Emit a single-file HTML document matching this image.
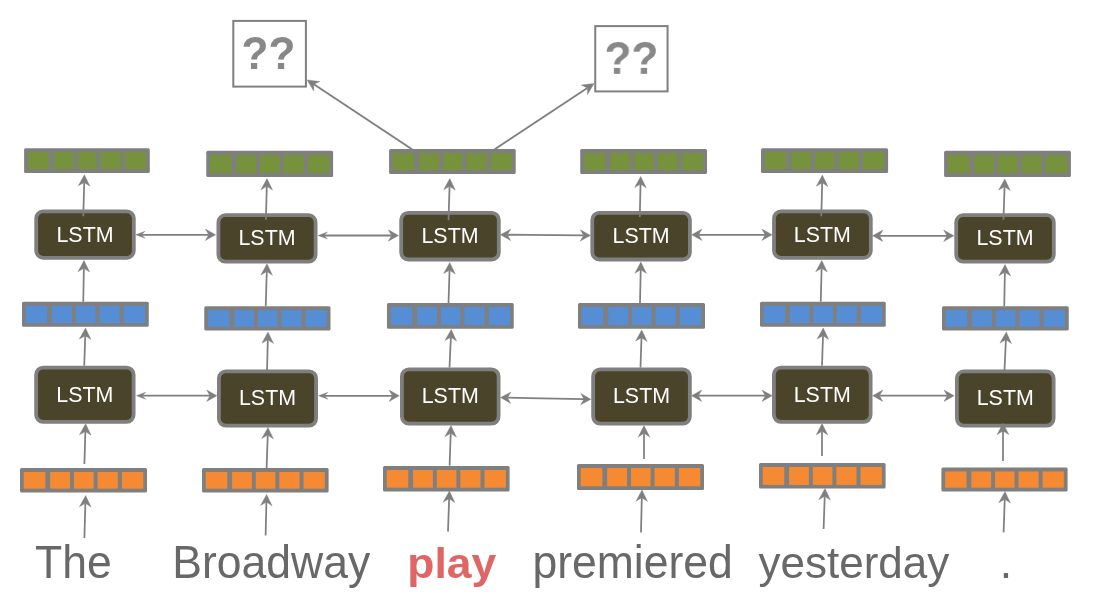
<!DOCTYPE html>
<html><head><meta charset="utf-8"><style>
html,body{margin:0;padding:0;background:#fff;width:1094px;height:600px;overflow:hidden}
svg{display:block;font-family:"Liberation Sans", sans-serif;will-change:transform}
</style></head><body>
<svg width="1094" height="600" viewBox="0 0 1094 600">
<line x1="412.00" y1="149.30" x2="313.87" y2="84.32" stroke="#7f7f7f" stroke-width="1.9"/><polygon points="307.20,79.90 319.94,81.50 313.87,84.32 313.64,91.00" fill="#7f7f7f" stroke="#7f7f7f" stroke-width="0.4" stroke-linejoin="round"/>
<line x1="494.70" y1="149.30" x2="587.33" y2="87.92" stroke="#7f7f7f" stroke-width="1.9"/><polygon points="594.00,83.50 587.56,94.60 587.33,87.92 581.27,85.10" fill="#7f7f7f" stroke="#7f7f7f" stroke-width="0.4" stroke-linejoin="round"/>
<rect x="233.3" y="20.9" width="72.6" height="65.7" fill="#fff" stroke="#7f7f7f" stroke-width="2"/>
<rect x="595.25" y="26.1" width="72.3" height="65.3" fill="#fff" stroke="#7f7f7f" stroke-width="2"/>
<text transform="translate(268.4,68.9) scale(0.98,1.025)" text-anchor="middle" font-size="45" font-weight="bold" fill="#888888">??</text>
<text transform="translate(631.4,73.9) scale(0.98,1.025)" text-anchor="middle" font-size="45" font-weight="bold" fill="#888888">??</text>
<line x1="84.40" y1="538.00" x2="85.38" y2="503.30" stroke="#7f7f7f" stroke-width="1.75"/><polygon points="85.60,495.60 91.08,507.06 85.38,503.30 79.48,506.73" fill="#7f7f7f" stroke="#7f7f7f" stroke-width="0.4" stroke-linejoin="round"/>
<line x1="84.25" y1="365.75" x2="85.25" y2="335.70" stroke="#7f7f7f" stroke-width="1.75"/><polygon points="85.50,328.00 90.92,339.49 85.25,335.70 79.33,339.10" fill="#7f7f7f" stroke="#7f7f7f" stroke-width="0.4" stroke-linejoin="round"/>
<line x1="83.25" y1="301.75" x2="83.86" y2="268.20" stroke="#7f7f7f" stroke-width="1.75"/><polygon points="84.00,260.50 89.59,271.90 83.86,268.20 78.00,271.69" fill="#7f7f7f" stroke="#7f7f7f" stroke-width="0.4" stroke-linejoin="round"/>
<line x1="265.60" y1="535.60" x2="266.41" y2="502.10" stroke="#7f7f7f" stroke-width="1.75"/><polygon points="266.60,494.40 272.12,505.84 266.41,502.10 260.53,505.56" fill="#7f7f7f" stroke="#7f7f7f" stroke-width="0.4" stroke-linejoin="round"/>
<line x1="267.00" y1="372.50" x2="267.81" y2="339.70" stroke="#7f7f7f" stroke-width="1.75"/><polygon points="268.00,332.00 273.52,343.44 267.81,339.70 261.92,343.15" fill="#7f7f7f" stroke="#7f7f7f" stroke-width="0.4" stroke-linejoin="round"/>
<line x1="265.75" y1="306.25" x2="266.77" y2="271.50" stroke="#7f7f7f" stroke-width="1.75"/><polygon points="267.00,263.80 272.46,275.27 266.77,271.50 260.87,274.92" fill="#7f7f7f" stroke="#7f7f7f" stroke-width="0.4" stroke-linejoin="round"/>
<line x1="448.00" y1="531.60" x2="449.13" y2="498.70" stroke="#7f7f7f" stroke-width="1.75"/><polygon points="449.40,491.00 454.81,502.49 449.13,498.70 443.21,502.09" fill="#7f7f7f" stroke="#7f7f7f" stroke-width="0.4" stroke-linejoin="round"/>
<line x1="449.50" y1="367.50" x2="450.90" y2="337.19" stroke="#7f7f7f" stroke-width="1.75"/><polygon points="451.25,329.50 456.52,341.05 450.90,337.19 444.94,340.52" fill="#7f7f7f" stroke="#7f7f7f" stroke-width="0.4" stroke-linejoin="round"/>
<line x1="448.50" y1="303.00" x2="449.55" y2="270.20" stroke="#7f7f7f" stroke-width="1.75"/><polygon points="449.80,262.50 455.23,273.98 449.55,270.20 443.64,273.61" fill="#7f7f7f" stroke="#7f7f7f" stroke-width="0.4" stroke-linejoin="round"/>
<line x1="641.00" y1="532.40" x2="641.82" y2="497.70" stroke="#7f7f7f" stroke-width="1.75"/><polygon points="642.00,490.00 647.53,501.43 641.82,497.70 635.94,501.16" fill="#7f7f7f" stroke="#7f7f7f" stroke-width="0.4" stroke-linejoin="round"/>
<line x1="640.50" y1="367.50" x2="641.49" y2="337.70" stroke="#7f7f7f" stroke-width="1.75"/><polygon points="641.75,330.00 647.17,341.49 641.49,337.70 635.58,341.10" fill="#7f7f7f" stroke="#7f7f7f" stroke-width="0.4" stroke-linejoin="round"/>
<line x1="640.00" y1="303.00" x2="640.73" y2="269.70" stroke="#7f7f7f" stroke-width="1.75"/><polygon points="640.90,262.00 646.45,273.42 640.73,269.70 634.85,273.17" fill="#7f7f7f" stroke="#7f7f7f" stroke-width="0.4" stroke-linejoin="round"/>
<line x1="823.60" y1="529.00" x2="824.73" y2="496.30" stroke="#7f7f7f" stroke-width="1.75"/><polygon points="825.00,488.60 830.41,500.09 824.73,496.30 818.81,499.69" fill="#7f7f7f" stroke="#7f7f7f" stroke-width="0.4" stroke-linejoin="round"/>
<line x1="822.00" y1="365.75" x2="823.00" y2="335.70" stroke="#7f7f7f" stroke-width="1.75"/><polygon points="823.25,328.00 828.67,339.49 823.00,335.70 817.08,339.10" fill="#7f7f7f" stroke="#7f7f7f" stroke-width="0.4" stroke-linejoin="round"/>
<line x1="820.75" y1="301.75" x2="821.60" y2="268.20" stroke="#7f7f7f" stroke-width="1.75"/><polygon points="821.80,260.50 827.31,271.94 821.60,268.20 815.71,271.65" fill="#7f7f7f" stroke="#7f7f7f" stroke-width="0.4" stroke-linejoin="round"/>
<line x1="1003.60" y1="532.40" x2="1004.74" y2="499.30" stroke="#7f7f7f" stroke-width="1.75"/><polygon points="1005.00,491.60 1010.41,503.09 1004.74,499.30 998.82,502.69" fill="#7f7f7f" stroke="#7f7f7f" stroke-width="0.4" stroke-linejoin="round"/>
<line x1="1004.50" y1="370.00" x2="1005.90" y2="339.69" stroke="#7f7f7f" stroke-width="1.75"/><polygon points="1006.25,332.00 1011.52,343.55 1005.90,339.69 999.94,343.02" fill="#7f7f7f" stroke="#7f7f7f" stroke-width="0.4" stroke-linejoin="round"/>
<line x1="1004.25" y1="306.25" x2="1004.86" y2="272.20" stroke="#7f7f7f" stroke-width="1.75"/><polygon points="1005.00,264.50 1010.60,275.90 1004.86,272.20 999.00,275.69" fill="#7f7f7f" stroke="#7f7f7f" stroke-width="0.4" stroke-linejoin="round"/>
<rect x="24.10" y="148.20" width="125.70" height="24.80" rx="1.5" fill="#7f7f7f"/><rect x="27.85" y="152.20" width="21.36" height="17.10" fill="#76923c"/><rect x="53.97" y="152.20" width="19.67" height="17.10" fill="#76923c"/><rect x="77.51" y="152.20" width="19.47" height="17.10" fill="#76923c"/><rect x="100.86" y="152.20" width="20.06" height="17.10" fill="#76923c"/><rect x="124.89" y="152.20" width="21.16" height="17.10" fill="#76923c"/>
<rect x="206.30" y="150.80" width="126.80" height="26.10" rx="1.5" fill="#7f7f7f"/><rect x="210.05" y="154.80" width="21.55" height="18.40" fill="#76923c"/><rect x="236.42" y="154.80" width="19.85" height="18.40" fill="#76923c"/><rect x="260.18" y="154.80" width="19.65" height="18.40" fill="#76923c"/><rect x="283.74" y="154.80" width="20.25" height="18.40" fill="#76923c"/><rect x="308.00" y="154.80" width="21.35" height="18.40" fill="#76923c"/>
<rect x="389.10" y="149.10" width="126.60" height="24.90" rx="1.5" fill="#7f7f7f"/><rect x="392.85" y="153.10" width="21.52" height="17.20" fill="#76923c"/><rect x="419.17" y="153.10" width="19.82" height="17.20" fill="#76923c"/><rect x="442.89" y="153.10" width="19.62" height="17.20" fill="#76923c"/><rect x="466.41" y="153.10" width="20.22" height="17.20" fill="#76923c"/><rect x="490.63" y="153.10" width="21.32" height="17.20" fill="#76923c"/>
<rect x="580.20" y="149.10" width="126.80" height="24.90" rx="1.5" fill="#7f7f7f"/><rect x="583.95" y="153.10" width="21.55" height="17.20" fill="#76923c"/><rect x="610.32" y="153.10" width="19.85" height="17.20" fill="#76923c"/><rect x="634.08" y="153.10" width="19.65" height="17.20" fill="#76923c"/><rect x="657.64" y="153.10" width="20.25" height="17.20" fill="#76923c"/><rect x="681.90" y="153.10" width="21.35" height="17.20" fill="#76923c"/>
<rect x="761.00" y="148.20" width="127.10" height="24.80" rx="1.5" fill="#7f7f7f"/><rect x="764.75" y="152.20" width="21.61" height="17.10" fill="#76923c"/><rect x="791.18" y="152.20" width="19.90" height="17.10" fill="#76923c"/><rect x="815.00" y="152.20" width="19.70" height="17.10" fill="#76923c"/><rect x="838.62" y="152.20" width="20.30" height="17.10" fill="#76923c"/><rect x="862.94" y="152.20" width="21.41" height="17.10" fill="#76923c"/>
<rect x="944.10" y="150.80" width="126.80" height="26.10" rx="1.5" fill="#7f7f7f"/><rect x="947.85" y="154.80" width="21.55" height="18.40" fill="#76923c"/><rect x="974.22" y="154.80" width="19.85" height="18.40" fill="#76923c"/><rect x="997.98" y="154.80" width="19.65" height="18.40" fill="#76923c"/><rect x="1021.54" y="154.80" width="20.25" height="18.40" fill="#76923c"/><rect x="1045.80" y="154.80" width="21.35" height="18.40" fill="#76923c"/>
<rect x="22.00" y="301.75" width="126.75" height="25.00" rx="1.5" fill="#7f7f7f"/><rect x="25.75" y="305.75" width="21.55" height="17.30" fill="#558ed5"/><rect x="52.11" y="305.75" width="19.84" height="17.30" fill="#558ed5"/><rect x="75.86" y="305.75" width="19.64" height="17.30" fill="#558ed5"/><rect x="99.40" y="305.75" width="20.24" height="17.30" fill="#558ed5"/><rect x="123.66" y="305.75" width="21.34" height="17.30" fill="#558ed5"/>
<rect x="204.25" y="306.25" width="126.25" height="24.25" rx="1.5" fill="#7f7f7f"/><rect x="208.00" y="310.25" width="21.45" height="16.55" fill="#558ed5"/><rect x="234.24" y="310.25" width="19.76" height="16.55" fill="#558ed5"/><rect x="257.89" y="310.25" width="19.56" height="16.55" fill="#558ed5"/><rect x="281.35" y="310.25" width="20.16" height="16.55" fill="#558ed5"/><rect x="305.49" y="310.25" width="21.26" height="16.55" fill="#558ed5"/>
<rect x="387.00" y="303.00" width="126.75" height="25.75" rx="1.5" fill="#7f7f7f"/><rect x="390.75" y="307.00" width="21.55" height="18.05" fill="#558ed5"/><rect x="417.11" y="307.00" width="19.84" height="18.05" fill="#558ed5"/><rect x="440.86" y="307.00" width="19.64" height="18.05" fill="#558ed5"/><rect x="464.40" y="307.00" width="20.24" height="18.05" fill="#558ed5"/><rect x="488.66" y="307.00" width="21.34" height="18.05" fill="#558ed5"/>
<rect x="578.00" y="303.00" width="127.00" height="25.75" rx="1.5" fill="#7f7f7f"/><rect x="581.75" y="307.00" width="21.59" height="18.05" fill="#558ed5"/><rect x="608.16" y="307.00" width="19.88" height="18.05" fill="#558ed5"/><rect x="631.96" y="307.00" width="19.68" height="18.05" fill="#558ed5"/><rect x="655.56" y="307.00" width="20.28" height="18.05" fill="#558ed5"/><rect x="679.86" y="307.00" width="21.39" height="18.05" fill="#558ed5"/>
<rect x="760.00" y="301.75" width="125.75" height="25.00" rx="1.5" fill="#7f7f7f"/><rect x="763.75" y="305.75" width="21.36" height="17.30" fill="#558ed5"/><rect x="789.88" y="305.75" width="19.68" height="17.30" fill="#558ed5"/><rect x="813.43" y="305.75" width="19.48" height="17.30" fill="#558ed5"/><rect x="836.79" y="305.75" width="20.07" height="17.30" fill="#558ed5"/><rect x="860.83" y="305.75" width="21.17" height="17.30" fill="#558ed5"/>
<rect x="942.00" y="306.25" width="126.75" height="24.25" rx="1.5" fill="#7f7f7f"/><rect x="945.75" y="310.25" width="21.55" height="16.55" fill="#558ed5"/><rect x="972.11" y="310.25" width="19.84" height="16.55" fill="#558ed5"/><rect x="995.86" y="310.25" width="19.64" height="16.55" fill="#558ed5"/><rect x="1019.40" y="310.25" width="20.24" height="16.55" fill="#558ed5"/><rect x="1043.66" y="310.25" width="21.34" height="16.55" fill="#558ed5"/>
<rect x="20.00" y="468.00" width="127.00" height="24.40" rx="1.5" fill="#7f7f7f"/><rect x="23.75" y="472.00" width="21.59" height="16.70" fill="#f58a32"/><rect x="50.16" y="472.00" width="19.88" height="16.70" fill="#f58a32"/><rect x="73.96" y="472.00" width="19.68" height="16.70" fill="#f58a32"/><rect x="97.56" y="472.00" width="20.28" height="16.70" fill="#f58a32"/><rect x="121.86" y="472.00" width="21.39" height="16.70" fill="#f58a32"/>
<rect x="202.00" y="468.00" width="126.60" height="24.40" rx="1.5" fill="#7f7f7f"/><rect x="205.75" y="472.00" width="21.52" height="16.70" fill="#f58a32"/><rect x="232.07" y="472.00" width="19.82" height="16.70" fill="#f58a32"/><rect x="255.79" y="472.00" width="19.62" height="16.70" fill="#f58a32"/><rect x="279.31" y="472.00" width="20.22" height="16.70" fill="#f58a32"/><rect x="303.53" y="472.00" width="21.32" height="16.70" fill="#f58a32"/>
<rect x="383.00" y="466.00" width="126.60" height="25.40" rx="1.5" fill="#7f7f7f"/><rect x="386.75" y="470.00" width="21.52" height="17.70" fill="#f58a32"/><rect x="413.07" y="470.00" width="19.82" height="17.70" fill="#f58a32"/><rect x="436.79" y="470.00" width="19.62" height="17.70" fill="#f58a32"/><rect x="460.31" y="470.00" width="20.22" height="17.70" fill="#f58a32"/><rect x="484.53" y="470.00" width="21.32" height="17.70" fill="#f58a32"/>
<rect x="577.00" y="464.00" width="127.00" height="26.00" rx="1.5" fill="#7f7f7f"/><rect x="580.75" y="468.00" width="21.59" height="18.30" fill="#f58a32"/><rect x="607.16" y="468.00" width="19.88" height="18.30" fill="#f58a32"/><rect x="630.96" y="468.00" width="19.68" height="18.30" fill="#f58a32"/><rect x="654.56" y="468.00" width="20.28" height="18.30" fill="#f58a32"/><rect x="678.86" y="468.00" width="21.39" height="18.30" fill="#f58a32"/>
<rect x="759.00" y="463.00" width="126.60" height="25.60" rx="1.5" fill="#7f7f7f"/><rect x="762.75" y="467.00" width="21.52" height="17.90" fill="#f58a32"/><rect x="789.07" y="467.00" width="19.82" height="17.90" fill="#f58a32"/><rect x="812.79" y="467.00" width="19.62" height="17.90" fill="#f58a32"/><rect x="836.31" y="467.00" width="20.22" height="17.90" fill="#f58a32"/><rect x="860.53" y="467.00" width="21.32" height="17.90" fill="#f58a32"/>
<rect x="941.40" y="467.40" width="126.20" height="24.00" rx="1.5" fill="#7f7f7f"/><rect x="945.15" y="471.40" width="21.45" height="16.30" fill="#f58a32"/><rect x="971.38" y="471.40" width="19.75" height="16.30" fill="#f58a32"/><rect x="995.02" y="471.40" width="19.55" height="16.30" fill="#f58a32"/><rect x="1018.46" y="471.40" width="20.15" height="16.30" fill="#f58a32"/><rect x="1042.60" y="471.40" width="21.25" height="16.30" fill="#f58a32"/>
<rect x="36.20" y="211.30" width="97.60" height="46.50" rx="7" fill="#49442a" stroke="#7f7f7f" stroke-width="3.8"/><text x="85.00" y="241.75" text-anchor="middle" font-size="21.4" fill="#ffffff">LSTM</text>
<rect x="218.40" y="215.20" width="97.20" height="46.50" rx="7" fill="#49442a" stroke="#7f7f7f" stroke-width="3.8"/><text x="267.00" y="245.25" text-anchor="middle" font-size="21.4" fill="#ffffff">LSTM</text>
<rect x="401.20" y="212.80" width="97.60" height="46.70" rx="7" fill="#49442a" stroke="#7f7f7f" stroke-width="3.8"/><text x="450.00" y="242.85" text-anchor="middle" font-size="21.4" fill="#ffffff">LSTM</text>
<rect x="592.30" y="212.80" width="97.60" height="46.70" rx="7" fill="#49442a" stroke="#7f7f7f" stroke-width="3.8"/><text x="641.10" y="242.95" text-anchor="middle" font-size="21.4" fill="#ffffff">LSTM</text>
<rect x="774.00" y="211.30" width="96.80" height="46.50" rx="7" fill="#49442a" stroke="#7f7f7f" stroke-width="3.8"/><text x="822.40" y="241.75" text-anchor="middle" font-size="21.4" fill="#ffffff">LSTM</text>
<rect x="956.20" y="215.20" width="97.60" height="46.50" rx="7" fill="#49442a" stroke="#7f7f7f" stroke-width="3.8"/><text x="1005.00" y="245.25" text-anchor="middle" font-size="21.4" fill="#ffffff">LSTM</text>
<rect x="36.15" y="367.65" width="97.45" height="54.20" rx="7" fill="#49442a" stroke="#7f7f7f" stroke-width="3.8"/><text x="84.88" y="401.95" text-anchor="middle" font-size="21.4" fill="#ffffff">LSTM</text>
<rect x="218.90" y="371.40" width="97.20" height="54.20" rx="7" fill="#49442a" stroke="#7f7f7f" stroke-width="3.8"/><text x="267.50" y="404.90" text-anchor="middle" font-size="21.4" fill="#ffffff">LSTM</text>
<rect x="401.90" y="369.40" width="96.70" height="54.20" rx="7" fill="#49442a" stroke="#7f7f7f" stroke-width="3.8"/><text x="450.25" y="402.50" text-anchor="middle" font-size="21.4" fill="#ffffff">LSTM</text>
<rect x="593.15" y="369.40" width="96.70" height="54.20" rx="7" fill="#49442a" stroke="#7f7f7f" stroke-width="3.8"/><text x="641.50" y="402.50" text-anchor="middle" font-size="21.4" fill="#ffffff">LSTM</text>
<rect x="773.90" y="367.65" width="96.70" height="54.20" rx="7" fill="#49442a" stroke="#7f7f7f" stroke-width="3.8"/><text x="822.25" y="401.95" text-anchor="middle" font-size="21.4" fill="#ffffff">LSTM</text>
<rect x="956.90" y="371.40" width="96.70" height="54.20" rx="7" fill="#49442a" stroke="#7f7f7f" stroke-width="3.8"/><text x="1005.25" y="404.90" text-anchor="middle" font-size="21.4" fill="#ffffff">LSTM</text>
<line x1="84.40" y1="464.00" x2="85.37" y2="431.40" stroke="#7f7f7f" stroke-width="1.75"/><polygon points="85.60,423.70 91.06,435.17 85.37,431.40 79.47,434.82" fill="#7f7f7f" stroke="#7f7f7f" stroke-width="0.4" stroke-linejoin="round"/>
<line x1="83.30" y1="216.30" x2="84.20" y2="182.40" stroke="#7f7f7f" stroke-width="1.75"/><polygon points="84.40,174.70 89.90,186.15 84.20,182.40 78.30,185.84" fill="#7f7f7f" stroke="#7f7f7f" stroke-width="0.4" stroke-linejoin="round"/>
<line x1="266.60" y1="468.00" x2="267.73" y2="435.10" stroke="#7f7f7f" stroke-width="1.75"/><polygon points="268.00,427.40 273.41,438.89 267.73,435.10 261.81,438.49" fill="#7f7f7f" stroke="#7f7f7f" stroke-width="0.4" stroke-linejoin="round"/>
<line x1="265.90" y1="219.80" x2="266.79" y2="186.30" stroke="#7f7f7f" stroke-width="1.75"/><polygon points="267.00,178.60 272.50,190.05 266.79,186.30 260.90,189.74" fill="#7f7f7f" stroke="#7f7f7f" stroke-width="0.4" stroke-linejoin="round"/>
<line x1="449.60" y1="465.60" x2="450.73" y2="433.30" stroke="#7f7f7f" stroke-width="1.75"/><polygon points="451.00,425.60 456.40,437.10 450.73,433.30 444.81,436.69" fill="#7f7f7f" stroke="#7f7f7f" stroke-width="0.4" stroke-linejoin="round"/>
<line x1="448.50" y1="220.20" x2="449.56" y2="186.30" stroke="#7f7f7f" stroke-width="1.75"/><polygon points="449.80,178.60 455.24,190.08 449.56,186.30 443.65,189.71" fill="#7f7f7f" stroke="#7f7f7f" stroke-width="0.4" stroke-linejoin="round"/>
<line x1="644.00" y1="459.00" x2="644.00" y2="433.30" stroke="#7f7f7f" stroke-width="1.75"/><polygon points="644.00,425.60 649.80,436.90 644.00,433.30 638.20,436.90" fill="#7f7f7f" stroke="#7f7f7f" stroke-width="0.4" stroke-linejoin="round"/>
<line x1="639.80" y1="217.00" x2="640.53" y2="184.10" stroke="#7f7f7f" stroke-width="1.75"/><polygon points="640.70,176.40 646.25,187.83 640.53,184.10 634.65,187.57" fill="#7f7f7f" stroke="#7f7f7f" stroke-width="0.4" stroke-linejoin="round"/>
<line x1="822.00" y1="456.00" x2="822.00" y2="431.30" stroke="#7f7f7f" stroke-width="1.75"/><polygon points="822.00,423.60 827.80,434.90 822.00,431.30 816.20,434.90" fill="#7f7f7f" stroke="#7f7f7f" stroke-width="0.4" stroke-linejoin="round"/>
<line x1="821.30" y1="216.30" x2="822.19" y2="182.80" stroke="#7f7f7f" stroke-width="1.75"/><polygon points="822.40,175.10 827.90,186.55 822.19,182.80 816.30,186.24" fill="#7f7f7f" stroke="#7f7f7f" stroke-width="0.4" stroke-linejoin="round"/>
<line x1="1003.00" y1="461.00" x2="1003.00" y2="430.90" stroke="#7f7f7f" stroke-width="1.75"/><polygon points="1003.00,423.20 1008.80,434.50 1003.00,430.90 997.20,434.50" fill="#7f7f7f" stroke="#7f7f7f" stroke-width="0.4" stroke-linejoin="round"/>
<line x1="1003.50" y1="219.80" x2="1004.55" y2="186.70" stroke="#7f7f7f" stroke-width="1.75"/><polygon points="1004.80,179.00 1010.24,190.48 1004.55,186.70 998.64,190.11" fill="#7f7f7f" stroke="#7f7f7f" stroke-width="0.4" stroke-linejoin="round"/>
<line x1="141.50" y1="234.80" x2="208.70" y2="234.80" stroke="#7f7f7f" stroke-width="1.8"/><polygon points="135.70,234.80 145.00,231.30 141.50,234.80 145.00,238.30" fill="#7f7f7f" stroke="#7f7f7f" stroke-width="0.4" stroke-linejoin="round"/><polygon points="215.60,234.80 205.40,240.50 208.70,234.80 205.40,229.10" fill="#7f7f7f" stroke="#7f7f7f" stroke-width="0.4" stroke-linejoin="round"/>
<line x1="323.90" y1="235.50" x2="391.60" y2="235.50" stroke="#7f7f7f" stroke-width="1.8"/><polygon points="318.10,235.50 327.40,232.00 323.90,235.50 327.40,239.00" fill="#7f7f7f" stroke="#7f7f7f" stroke-width="0.4" stroke-linejoin="round"/><polygon points="398.50,235.50 388.30,241.20 391.60,235.50 388.30,229.80" fill="#7f7f7f" stroke="#7f7f7f" stroke-width="0.4" stroke-linejoin="round"/>
<line x1="507.40" y1="234.76" x2="583.60" y2="235.44" stroke="#7f7f7f" stroke-width="1.8"/><polygon points="500.50,234.70 510.75,229.09 507.40,234.76 510.65,240.49" fill="#7f7f7f" stroke="#7f7f7f" stroke-width="0.4" stroke-linejoin="round"/><polygon points="590.50,235.50 580.25,241.11 583.60,235.44 580.35,229.71" fill="#7f7f7f" stroke="#7f7f7f" stroke-width="0.4" stroke-linejoin="round"/>
<line x1="698.60" y1="234.80" x2="765.20" y2="234.80" stroke="#7f7f7f" stroke-width="1.8"/><polygon points="691.70,234.80 701.90,229.10 698.60,234.80 701.90,240.50" fill="#7f7f7f" stroke="#7f7f7f" stroke-width="0.4" stroke-linejoin="round"/><polygon points="772.10,234.80 761.90,240.50 765.20,234.80 761.90,229.10" fill="#7f7f7f" stroke="#7f7f7f" stroke-width="0.4" stroke-linejoin="round"/>
<line x1="879.50" y1="235.80" x2="947.00" y2="235.80" stroke="#7f7f7f" stroke-width="1.8"/><polygon points="872.60,235.80 882.80,230.10 879.50,235.80 882.80,241.50" fill="#7f7f7f" stroke="#7f7f7f" stroke-width="0.4" stroke-linejoin="round"/><polygon points="953.90,235.80 943.70,241.50 947.00,235.80 943.70,230.10" fill="#7f7f7f" stroke="#7f7f7f" stroke-width="0.4" stroke-linejoin="round"/>
<line x1="142.20" y1="395.70" x2="210.00" y2="395.70" stroke="#7f7f7f" stroke-width="1.8"/><polygon points="136.40,395.70 145.70,392.20 142.20,395.70 145.70,399.20" fill="#7f7f7f" stroke="#7f7f7f" stroke-width="0.4" stroke-linejoin="round"/><polygon points="216.90,395.70 206.70,401.40 210.00,395.70 206.70,390.00" fill="#7f7f7f" stroke="#7f7f7f" stroke-width="0.4" stroke-linejoin="round"/>
<line x1="324.40" y1="395.80" x2="392.40" y2="395.80" stroke="#7f7f7f" stroke-width="1.8"/><polygon points="318.60,395.80 327.90,392.30 324.40,395.80 327.90,399.30" fill="#7f7f7f" stroke="#7f7f7f" stroke-width="0.4" stroke-linejoin="round"/><polygon points="399.30,395.80 389.10,401.50 392.40,395.80 389.10,390.10" fill="#7f7f7f" stroke="#7f7f7f" stroke-width="0.4" stroke-linejoin="round"/>
<line x1="507.50" y1="397.64" x2="584.00" y2="399.16" stroke="#7f7f7f" stroke-width="1.8"/><polygon points="500.60,397.50 510.91,392.00 507.50,397.64 510.68,403.40" fill="#7f7f7f" stroke="#7f7f7f" stroke-width="0.4" stroke-linejoin="round"/><polygon points="590.90,399.30 580.59,404.80 584.00,399.16 580.82,393.40" fill="#7f7f7f" stroke="#7f7f7f" stroke-width="0.4" stroke-linejoin="round"/>
<line x1="698.40" y1="395.70" x2="765.30" y2="395.70" stroke="#7f7f7f" stroke-width="1.8"/><polygon points="691.50,395.70 701.70,390.00 698.40,395.70 701.70,401.40" fill="#7f7f7f" stroke="#7f7f7f" stroke-width="0.4" stroke-linejoin="round"/><polygon points="772.20,395.70 762.00,401.40 765.30,395.70 762.00,390.00" fill="#7f7f7f" stroke="#7f7f7f" stroke-width="0.4" stroke-linejoin="round"/>
<line x1="879.50" y1="395.70" x2="947.30" y2="395.70" stroke="#7f7f7f" stroke-width="1.8"/><polygon points="872.60,395.70 882.80,390.00 879.50,395.70 882.80,401.40" fill="#7f7f7f" stroke="#7f7f7f" stroke-width="0.4" stroke-linejoin="round"/><polygon points="954.20,395.70 944.00,401.40 947.30,395.70 944.00,390.00" fill="#7f7f7f" stroke="#7f7f7f" stroke-width="0.4" stroke-linejoin="round"/>
<text transform="translate(35.0,578.2) scale(1,1.022)" font-size="44.5" fill="#686868">The</text>
<text transform="translate(172.3,578.2) scale(1,1.022)" font-size="44.5" fill="#686868">Broadway</text>
<text transform="translate(407.2,578.2) scale(1,0.952)" font-size="44.5" font-weight="bold" fill="#e06666">play</text>
<text transform="translate(532.5,578.2) scale(1,1.022)" font-size="44.5" fill="#686868">premiered</text>
<text transform="translate(758.6,578.2) scale(1,1.022)" font-size="44" fill="#686868">yesterday</text>
<text transform="translate(999.8,578.2) scale(1,1.022)" font-size="44.5" fill="#686868">.</text>
</svg>
</body></html>
